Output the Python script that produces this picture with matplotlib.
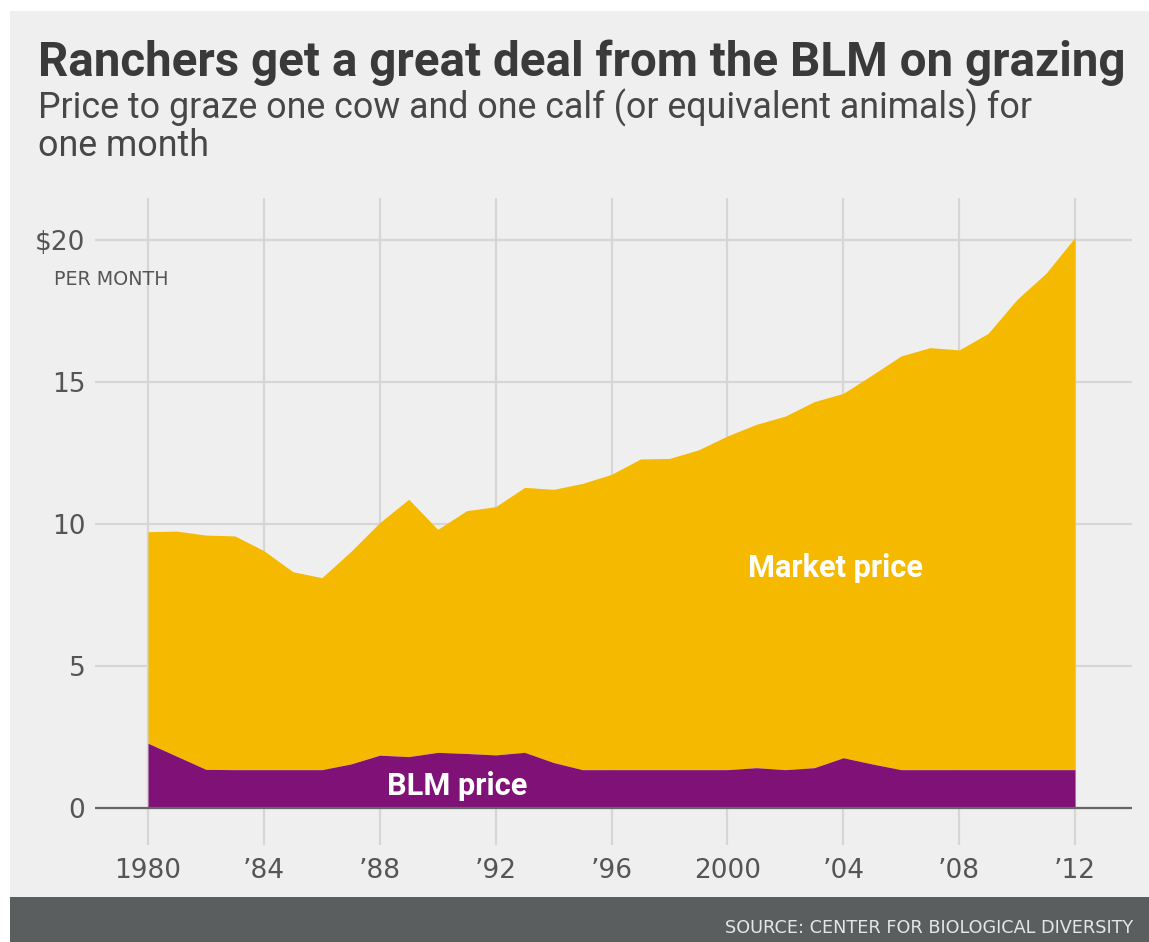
import matplotlib
matplotlib.use("Agg")
import matplotlib.pyplot as plt
from matplotlib import font_manager
from matplotlib.patches import Rectangle

# data
years = list(range(1980, 2013))
market_price = [9.73, 9.75, 9.61, 9.58, 9.06, 8.32, 8.11, 9.03, 10.05, 10.87,
                9.81, 10.47, 10.61, 11.29, 11.22, 11.43, 11.75, 12.29, 12.31, 12.61,
                13.10, 13.51, 13.80, 14.31, 14.60, 15.25, 15.92, 16.21, 16.13, 16.71,
                17.91, 18.83, 20.09]
blm_price = [2.28, 1.82, 1.36, 1.35, 1.35, 1.35, 1.35, 1.55, 1.86, 1.81,
             1.96, 1.92, 1.87, 1.96, 1.60, 1.35, 1.35, 1.35, 1.35, 1.35,
             1.35, 1.42, 1.35, 1.42, 1.77, 1.55, 1.35, 1.35, 1.35, 1.35,
             1.35, 1.35, 1.35]
xticks = [1980, 1984, 1988, 1992, 1996, 2000, 2004, 2008, 2012]
xlabels = ["1980", "\u201984", "\u201988", "\u201992", "\u201996", "2000", "\u201904", "\u201908", "\u201912"]
yticks = [0, 5, 10, 15, 20]
ylabels = ["0", "5", "10", "15", "$20"]

W, H = 1149, 942
BG = "#efefef"
YELLOW = "#f5ba00"
PURPLE = "#801176"
TEXT = "#555555"

names = {f.name for f in font_manager.fontManager.ttflist}
narrow = "Liberation Sans Narrow" if "Liberation Sans Narrow" in names else "DejaVu Sans"


def fx(px):
    return px / W


def fy(py):
    return 1 - py / H


fig = plt.figure(figsize=(W / 100, H / 100), dpi=100, facecolor="white")

# grey panel and dark footer
fig.patches.append(Rectangle((fx(10), 0), 1, fy(11), transform=fig.transFigure,
                             facecolor=BG, edgecolor="none", zorder=-2))
fig.patches.append(Rectangle((fx(10), 0), 1, fy(897), transform=fig.transFigure,
                             facecolor="#5b5e5f", edgecolor="none", zorder=-1))

# axes placed so that 1980 -> x=148px, 2012 -> 1075px, 0 -> 808px, 20 -> 240px
ax_l, ax_r, ax_t, ax_b = 95, 1132, 198, 845
ax = fig.add_axes([fx(ax_l), fy(ax_b), fx(ax_r - ax_l), (ax_b - ax_t) / H])
ax.set_facecolor(BG)
px_year = (1075 - 148) / 32
px_val = (808 - 240) / 20
ax.set_xlim(1980 + (ax_l - 148) / px_year, 1980 + (ax_r - 148) / px_year)
ax.set_ylim((808 - ax_b) / px_val, (808 - ax_t) / px_val)

for y in yticks[1:]:
    ax.axhline(y, color="#d6d6d6", lw=1.6, zorder=1)
for x in xticks:
    ax.axvline(x, color="#d6d6d6", lw=1.6, zorder=1)

ax.fill_between(years, blm_price, market_price, color=YELLOW, lw=0, zorder=2)
ax.fill_between(years, 0, blm_price, color=PURPLE, lw=0, zorder=2)
ax.axhline(0, color="#666666", lw=1.6, zorder=3)

ax.set_xticks(xticks)
ax.set_xticklabels(xlabels)
ax.set_yticks(yticks)
ax.set_yticklabels(ylabels)
ax.tick_params(length=0, labelsize=19, labelcolor=TEXT)
ax.tick_params(axis="x", pad=9)
ax.tick_params(axis="y", pad=7)
for s in ax.spines.values():
    s.set_visible(False)

# series labels, x given in pixels then converted to years
mkt = ax.text(835, 10.0 - (568 - 524) / px_val, "Market price", color="white", fontsize=22,
              fontweight="bold", family="Roboto", ha="center", va="center", zorder=4)
blm = ax.text(457, 0.78, "BLM price", color="white", fontsize=22, fontweight="bold",
              family="Roboto", ha="center", va="center", zorder=4)
for t in (mkt, blm):
    t.set_x(1980 + (t.get_position()[0] - 148) / px_year)

title = fig.text(fx(38), fy(76), "Ranchers get a great deal from the BLM on grazing",
                 fontsize=32, fontweight="bold", family="Roboto", color="#3a3a3a")
sub1 = fig.text(fx(38), fy(118), "Price to graze one cow and one calf (or equivalent animals) for",
                fontsize=22, family="Roboto", color="#474747")
sub2 = fig.text(fx(38), fy(156), "one month",
                fontsize=22, family="Roboto", color="#474747")
per = fig.text(fx(54), fy(285), "PER MONTH", fontsize=13, family=narrow, color=TEXT)
src = fig.text(fx(1133), fy(933), "SOURCE: CENTER FOR BIOLOGICAL DIVERSITY",
               fontsize=12, family=narrow, color="#e6e6e6", ha="right")


def fit(t, width_px):
    r = fig.canvas.get_renderer()
    bb = t.get_window_extent(renderer=r)
    t.set_fontsize(t.get_fontsize() * width_px / bb.width)


fig.canvas.draw()
fit(title, 1089)
fit(sub1, 992)
sub2.set_fontsize(sub1.get_fontsize())
fit(per, 114)
fit(src, 405)
fit(mkt, 175)
fit(blm, 140)

fig.savefig("out.png", dpi=100, facecolor="white")
